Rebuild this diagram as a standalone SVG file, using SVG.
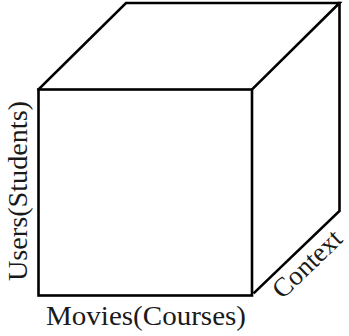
<svg xmlns="http://www.w3.org/2000/svg" width="349" height="336" viewBox="0 0 349 336">
<style>
.edge{fill:none;stroke:#000;stroke-width:2.6;stroke-linejoin:miter;stroke-linecap:square}
.lbl{font-family:"Liberation Serif","Times New Roman",serif;font-size:28px;fill:#1a1a1a}
</style>
<rect width="349" height="336" fill="#fff"/>
<g id="cube">
<rect class="edge" x="38.5" y="89.5" width="213.5" height="206"/>
<polyline class="edge" points="38.5,89.5 126,3 339.5,3 252,89.5"/>
<polyline class="edge" points="339.5,3 339.5,211 254.5,292.5"/>
</g>
<g id="labels">
<text class="lbl" x="46" y="325" textLength="200" lengthAdjust="spacingAndGlyphs">Movies(Courses)</text>
<text class="lbl" transform="translate(282.5,300) rotate(-44)" style="font-size:27px">Context</text>
<text class="lbl" transform="translate(27,281) rotate(-90)" textLength="180" lengthAdjust="spacingAndGlyphs">Users(Students)</text>
</g>
</svg>
